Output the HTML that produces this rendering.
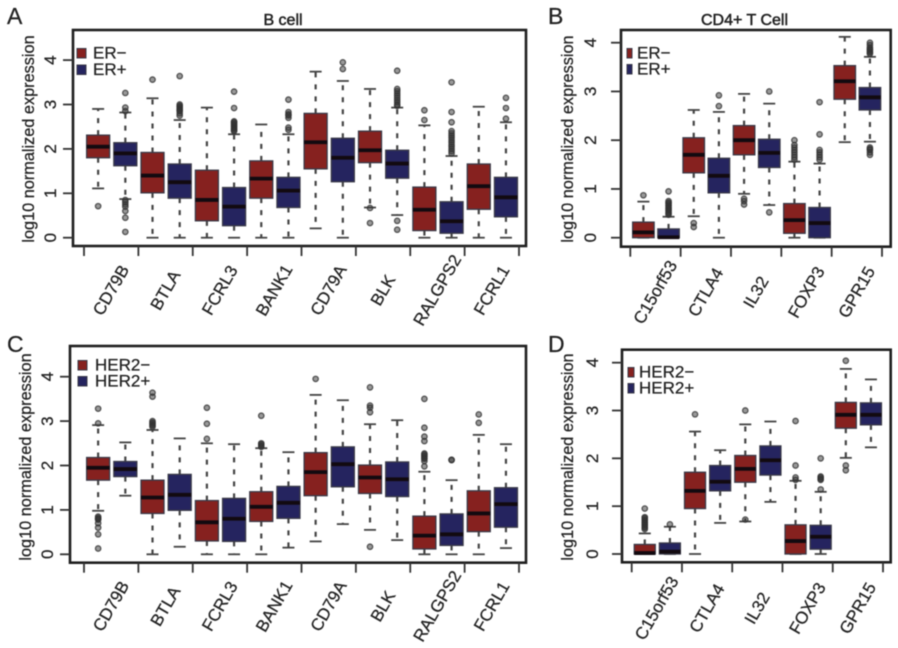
<!DOCTYPE html>
<html>
<head>
<meta charset="utf-8">
<title>Boxplots of immune gene expression by ER and HER2 status</title>
<style>
html,body{margin:0;padding:0;background:#fff;}
svg{display:block;filter:blur(0.6px);}
text{font-family:"Liberation Sans",sans-serif;fill:#222;stroke:#222;stroke-width:0.25px;}
</style>
</head>
<body>
<svg id="fig" xmlns="http://www.w3.org/2000/svg" width="898" height="648" viewBox="0 0 898 648"></svg>
<script>
// Values come in pairs per gene: status-negative box, then status-positive box.
const aCategories = ["CD79B","BTLA","FCRL3","BANK1","CD79A","BLK","RALGPS2","FCRL1"];
const aLow    = [1.11,0.87, 0,0, 0,0, 0,0, 0.21,0, 0.68,0.51, 0,0, 0,0];
const aQ1     = [1.80,1.62, 1.01,0.89, 0.38,0.27, 0.89,0.68, 1.55,1.26, 1.69,1.34, 0.16,0.10, 0.64,0.47];
const aMedian = [2.05,1.90, 1.40,1.25, 0.85,0.70, 1.33,1.06, 2.15,1.80, 1.97,1.67, 0.63,0.37, 1.16,0.91];
const aQ3     = [2.31,2.14, 1.92,1.66, 1.52,1.13, 1.73,1.36, 2.80,2.24, 2.40,1.97, 1.14,0.81, 1.66,1.36];
const aHigh   = [2.90,2.82, 3.14,2.65, 2.93,2.33, 2.55,2.33, 3.74,3.53, 3.35,2.93, 2.53,1.84, 2.95,2.60];
const aOutliers = [[0.71],[3.26,2.93,2.85,0.85,0.8,0.75,0.7,0.6,0.45,0.13],[3.56],[3.64,3.0,2.97,2.95,2.92,2.9,2.87,2.85,2.8,2.75],[],[3.29,2.92,2.62,2.6,2.57,2.55,2.52,2.5,2.47,2.45,2.42,2.4],[],[3.11,2.83,2.78,2.75,2.7,2.48,2.43],[],[3.95,3.8],[0.67,0.33],[3.76,3.35,3.3,3.25,3.2,3.15,3.1,3.05,3.0,2.97,0.38,0.18],[2.87,2.65],[3.5,2.83,2.6,2.4,2.35,2.3,2.25,2.2,2.15,2.1,2.05,2.0,1.95,1.9],[],[3.15,2.92,2.68]];
const aLegend = ["ER\u2212","ER+"];
const aTitle = "B cell";

const bCategories = ["C15orf53","CTLA4","IL32","FOXP3","GPR15"];
const bLow    = [0,0, 0.44,0, 0.90,0.67, 0,0, 1.96,1.97];
const bQ1     = [0,0, 1.33,0.92, 1.70,1.44, 0.09,0, 2.84,2.62];
const bMedian = [0.11,0.01, 1.70,1.27, 2.00,1.74, 0.36,0.30, 3.21,2.88];
const bQ3     = [0.32,0.18, 2.05,1.63, 2.30,2.02, 0.70,0.62, 3.53,3.08];
const bHigh   = [0.74,0.43, 2.62,2.58, 2.95,2.75, 1.56,1.52, 4.12,3.71];
const bOutliers = [[0.87],[0.95,0.75,0.72,0.7,0.67,0.65,0.62,0.6,0.57,0.55,0.52,0.5,0.47],[0.3,0.22],[2.92,2.7],[0.8,0.75,0.68],[3.0,0.52],[2.0,1.9,1.85,1.8,1.75,1.7,1.65,1.6],[2.78,2.12,1.8,1.75,1.7,1.65,1.6],[],[4.0,3.95,3.9,3.87,3.85,3.82,3.8,3.77,1.85,1.82,1.8,1.75,1.7]];
const bLegend = ["ER\u2212","ER+"];
const bTitle = "CD4+ T Cell";

const cCategories = ["CD79B","BTLA","FCRL3","BANK1","CD79A","BLK","RALGPS2","FCRL1"];
const cLow    = [0.98,1.32, 0,0.17, 0,0, 0,0.15, 0.29,0.68, 0.55,0.32, 0,0, 0,0.14];
const cQ1     = [1.67,1.75, 0.92,0.99, 0.30,0.29, 0.74,0.81, 1.32,1.52, 1.37,1.30, 0.12,0.20, 0.51,0.61];
const cMedian = [1.95,1.92, 1.28,1.34, 0.72,0.80, 1.07,1.16, 1.85,2.03, 1.73,1.69, 0.42,0.45, 0.92,1.13];
const cQ3     = [2.18,2.09, 1.67,1.80, 1.21,1.26, 1.41,1.53, 2.29,2.42, 2.01,2.08, 0.86,0.91, 1.43,1.50];
const cHigh   = [2.91,2.52, 2.80,2.61, 2.50,2.48, 2.39,2.30, 3.59,3.47, 2.93,3.02, 1.86,1.67, 2.69,2.48];
const cOutliers = [[3.28,2.95,0.85,0.82,0.8,0.78,0.7,0.6,0.45,0.13],[],[3.64,3.55,3.0,2.97,2.95,2.92,2.9,2.87],[],[3.3,2.94,2.6],[],[3.12,2.5,2.48,2.45,2.42],[],[3.95],[],[3.76,3.35,3.3,3.2,0.17],[],[3.5,2.85,2.65,2.55,2.27,2.25,2.22,2.2,2.17,2.15,2.1,1.98],[2.13,2.12],[3.15,2.96],[]];
const cLegend = ["HER2\u2212","HER2+"];

const dCategories = ["C15orf53","CTLA4","IL32","FOXP3","GPR15"];
const dLow    = [0,0, 0,0.65, 0.68,1.09, 0,0, 2.01,2.23];
const dQ1     = [0,0, 0.95,1.32, 1.50,1.65, 0,0.10, 2.63,2.70];
const dMedian = [0.02,0.05, 1.32,1.51, 1.78,1.96, 0.27,0.36, 2.91,2.91];
const dQ3     = [0.20,0.23, 1.71,1.85, 2.06,2.26, 0.61,0.60, 3.17,3.16];
const dHigh   = [0.43,0.57, 2.56,2.17, 2.71,2.77, 1.53,1.30, 3.87,3.65];
const dOutliers = [[0.95,0.77,0.75,0.72,0.7,0.67,0.65,0.62,0.6,0.57,0.55,0.52],[0.62],[2.92],[],[3.0,0.72],[],[2.78,1.85,1.6,1.55],[2.0,1.62,1.6,1.57,1.55,1.35],[4.04,1.85,1.75],[]];
const dLegend = ["HER2\u2212","HER2+"];

const yTicks = [0,1,2,3,4];
const yAxisTitle = "log10 normalized expression";

const NS = "http://www.w3.org/2000/svg";
const fig = document.getElementById("fig");
const COLORS = ["#86211f","#25245f"];

function mk(parent, tag, attrs, txt){
  const e = document.createElementNS(NS, tag);
  for (const k in attrs) e.setAttribute(k, attrs[k]);
  if (txt !== undefined) e.textContent = txt;
  parent.appendChild(e);
  return e;
}

function drawPanel(p){
  const g = mk(fig, "g", {});
  
  

  const n = p.categories.length;
  const spacing = (p.tickEnd - p.tick0) / n;
  const xTick = i => p.tick0 + spacing * i;
  const xBox = i => p.tick0 + spacing * (Math.floor(i / 2) + (i % 2 ? 0.76 : 0.26));
  const yScale = v => p.y0 - v * p.unit;

  const letter = mk(g, "text", {x:p.letterX, y:p.letterY, "font-size":23}, p.id.toUpperCase());
  
  

  if (p.title){
    const t = mk(g, "text", {x:p.titleX, y:25, "font-size":16, "text-anchor":"middle", style:"stroke-width:0.5px"}, p.title);
    
    
  }

  // boxes
  for (let i = 0; i < p.q1.length; i++){
    const cx = xBox(i), w = p.boxW, col = COLORS[i % 2];
    const box = mk(g, "g", {});
    
    
    const whisk = {stroke:"#444", "stroke-width":2.2, "stroke-dasharray":"5 7", fill:"none"};
    mk(box, "line", Object.assign({x1:cx, x2:cx, y1:yScale(p.q3[i]), y2:yScale(p.high[i])}, whisk));
    mk(box, "line", Object.assign({x1:cx, x2:cx, y1:yScale(p.q1[i]), y2:yScale(p.low[i])}, whisk));
    const cap = {stroke:"#444", "stroke-width":1.8};
    mk(box, "line", Object.assign({x1:cx - 6, x2:cx + 6, y1:yScale(p.high[i]), y2:yScale(p.high[i])}, cap));
    mk(box, "line", Object.assign({x1:cx - 6, x2:cx + 6, y1:yScale(p.low[i]), y2:yScale(p.low[i])}, cap));
    mk(box, "rect", {x:cx - w / 2, width:w, y:yScale(p.q3[i]), height:yScale(p.q1[i]) - yScale(p.q3[i]), fill:col, stroke:"#3a3a48", "stroke-width":1.3});
    mk(box, "line", {x1:cx - w / 2, x2:cx + w / 2, y1:yScale(p.median[i]), y2:yScale(p.median[i]), stroke:"#120a10", "stroke-width":3.8});
    p.outliers[i].forEach(v => {
      mk(box, "circle", {cx:cx, cy:yScale(v), r:2.7, fill:"#333", "fill-opacity":0.5, stroke:"#333", "stroke-opacity":0.8, "stroke-width":1.3});
    });
  }

  // frame
  const frame = mk(g, "rect", {x:p.left, y:p.top, width:p.right - p.left, height:p.bottom - p.top, fill:"none", stroke:"#1f1f1f", "stroke-width":2.6});
  
  

  // y axis
  const yAxis = mk(g, "g", {});
  
  
  yTicks.forEach(v => {
    const y = yScale(v);
    mk(yAxis, "line", {x1:p.left - 10, x2:p.left, y1:y, y2:y, stroke:"#333", "stroke-width":1.8});
    const lx = p.yLabelX;
    mk(yAxis, "text", {x:lx, y:y, "font-size":17, "text-anchor":"middle", transform:"rotate(-90 " + lx + " " + y + ")", dy:"0.36em"}, String(v));
  });
  const ty = mk(g, "text", {x:p.yTitleX, y:p.yTitleY, "font-size":16.3, "text-anchor":"middle", transform:"rotate(-90 " + p.yTitleX + " " + p.yTitleY + ")", dy:"0.36em"}, yAxisTitle);
  
  

  // x axis
  const xAxis = mk(g, "g", {});
  
  
  for (let i = 0; i <= n; i++){
    mk(xAxis, "line", {x1:xTick(i), x2:xTick(i), y1:p.bottom, y2:p.bottom + 10, stroke:"#333", "stroke-width":1.8});
  }
  p.categories.forEach((name, i) => {
    const cx = xTick(i + 0.5) - 0.5;
    mk(xAxis, "text", {x:cx, y:p.xLabelY, "font-size":17, "text-anchor":"middle", dy:"0.36em", transform:"rotate(-60 " + cx + " " + p.xLabelY + ")"}, name);
  });

  // legend
  const lg = mk(g, "g", {});
  
  
  p.legend.forEach((label, i) => {
    const y = p.legendY + i * p.legendGap;
    mk(lg, "rect", {x:p.swatchX, y:y - 9.5, width:p.swatchW, height:9.5, fill:COLORS[i], stroke:"#3a3a48", "stroke-width":1});
    mk(lg, "text", {x:p.legendTextX, y:y + 0.5, "font-size":17}, label);
  });
}

drawPanel({id:"a", categories:aCategories, low:aLow, q1:aQ1, median:aMedian, q3:aQ3, high:aHigh, outliers:aOutliers, legend:aLegend, title:aTitle,
  left:73, right:526, top:30, bottom:246, tick0:84, tickEnd:519, y0:237.7, unit:44.4, boxW:23,
  letterX:7, letterY:24, titleX:283, yLabelX:50, yTitleX:28, yTitleY:139, xLabelY:290,
  swatchX:77, swatchW:9, legendTextX:93, legendY:58, legendGap:16.5});
drawPanel({id:"b", categories:bCategories, low:bLow, q1:bQ1, median:bMedian, q3:bQ3, high:bHigh, outliers:bOutliers, legend:bLegend, title:bTitle,
  left:621, right:890.7, top:30, bottom:246.7, tick0:630.3, tickEnd:882, y0:237.7, unit:48.75, boxW:21.5,
  letterX:548, letterY:24, titleX:744.5, yLabelX:590, yTitleX:567, yTitleY:139, xLabelY:292,
  swatchX:627, swatchW:5, legendTextX:637, legendY:58, legendGap:16});
drawPanel({id:"c", categories:cCategories, low:cLow, q1:cQ1, median:cMedian, q3:cQ3, high:cHigh, outliers:cOutliers, legend:cLegend,
  left:70, right:526, top:346, bottom:562.7, tick0:84, tickEnd:519, y0:554.3, unit:44.4, boxW:23,
  letterX:7, letterY:352, yLabelX:47, yTitleX:25, yTitleY:457, xLabelY:606,
  swatchX:78, swatchW:9, legendTextX:95, legendY:370, legendGap:16});
drawPanel({id:"d", categories:dCategories, low:dLow, q1:dQ1, median:dMedian, q3:dQ3, high:dHigh, outliers:dOutliers, legend:dLegend,
  left:622, right:890.7, top:349.7, bottom:562.3, tick0:631.7, tickEnd:883, y0:554, unit:47.83, boxW:21,
  letterX:548, letterY:352, yLabelX:592, yTitleX:567, yTitleY:457, xLabelY:608,
  swatchX:628, swatchW:6, legendTextX:639, legendY:377, legendGap:16});
</script>
</body>
</html>
